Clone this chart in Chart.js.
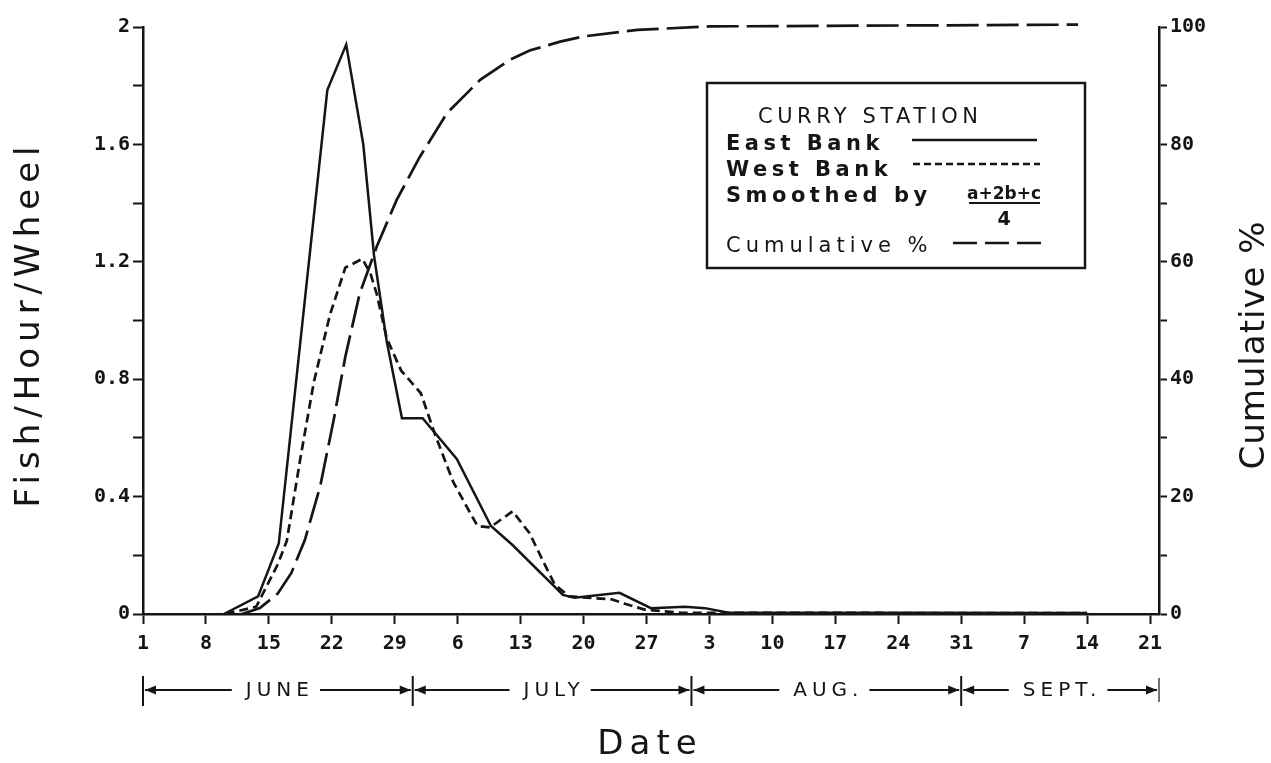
<!DOCTYPE html>
<html>
<head>
    <title>Curry Station</title>
    <script src="https://cdn.jsdelivr.net/npm/chart.js"></script>
    <style>
        body { margin: 0; background: #fff; }
        canvas { display: block; }
    </style>
</head>
<body>
    <canvas id="fishChart" width="1271" height="763"></canvas>
    <script>
        // x is days counted from June 1 (day 0) to Sept 21 (day 112)
        const tickDays = [0, 7, 14, 21, 28, 35, 42, 49, 56, 63, 70, 77, 84, 91, 98, 105, 112];
        const tickLabels = ['1', '8', '15', '22', '29', '6', '13', '20', '27', '3', '10', '17', '24', '31', '7', '14', '21'];
        const monthBounds = [0, 30, 61, 91, 113];
        const monthNames = ['JUNE', 'JULY', 'AUG.', 'SEPT.'];

        const eastDays = [9, 12.8, 15.1, 20.5, 22.6, 24.5, 25.7, 27.1, 28.8, 31.1, 34.9, 38.7, 41.1, 46.7, 48, 53, 56.5, 60.3, 62.5, 65, 105];
        const eastVals = [0, 0.06, 0.24, 1.785, 1.94, 1.6, 1.22, 0.93, 0.667, 0.667, 0.528, 0.3, 0.235, 0.065, 0.055, 0.072, 0.02, 0.025, 0.02, 0.005, 0.003];

        const westDays = [9.2, 12.6, 15, 16, 17.5, 19, 20.8, 22.5, 24.4, 25.3, 26, 27.1, 28.7, 30.9, 32.5, 34.5, 36, 37.2, 38.6, 41.1, 43, 44.5, 45.8, 47.4, 52.1, 53.6, 55.8, 60, 105];
        const westVals = [0, 0.025, 0.17, 0.25, 0.53, 0.79, 1.02, 1.18, 1.21, 1.16, 1.09, 0.94, 0.83, 0.752, 0.61, 0.45, 0.366, 0.3, 0.295, 0.35, 0.275, 0.18, 0.1, 0.06, 0.05, 0.035, 0.015, 0.004, 0.003];

        const cumDays = [11, 13, 15, 16.5, 18, 19.7, 21.2, 22.5, 24.1, 26, 28.2, 30.8, 33.8, 37.5, 40.8, 43, 46.4, 49, 55, 63, 104];
        const cumVals = [0, 1, 3.5, 7, 12.6, 21.7, 33, 43.8, 54.6, 62.6, 70.5, 77.9, 85.3, 91, 94.4, 96, 97.5, 98.4, 99.5, 100.1, 100.4];

        const ink = '#151515';
        const pts = (xs, ys) => xs.map((x, i) => ({ x: x, y: ys[i] }));

        function arrowTo(ctx, xa, xb, y) {
            ctx.beginPath();
            ctx.moveTo(xa, y);
            ctx.lineTo(xb, y);
            ctx.stroke();
            const dir = Math.sign(xb - xa);
            ctx.beginPath();
            ctx.moveTo(xb, y);
            ctx.lineTo(xb - dir * 11, y - 4.5);
            ctx.lineTo(xb - dir * 11, y + 4.5);
            ctx.closePath();
            ctx.fill();
        }

        // titles, month band and the boxed legend
        const decor = {
            id: 'decor',
            afterDraw(chart) {
                const ctx = chart.ctx;
                const xs = chart.scales.x;
                ctx.save();
                ctx.fillStyle = ink;
                ctx.strokeStyle = ink;
                ctx.textAlign = 'center';
                ctx.textBaseline = 'middle';

                ctx.font = '34px "DejaVu Sans"';
                ctx.letterSpacing = '6px';
                ctx.save();
                ctx.translate(30, 324);
                ctx.rotate(-Math.PI / 2);
                ctx.fillText('Fish/Hour/Wheel', 0, 0);
                ctx.restore();
                ctx.letterSpacing = '1px';
                ctx.save();
                ctx.translate(1255, 345);
                ctx.rotate(-Math.PI / 2);
                ctx.fillText('Cumulative %', 0, 0);
                ctx.restore();
                ctx.letterSpacing = '6px';
                ctx.fillText('Date', 650, 745);

                // month band
                const by = 690;
                ctx.font = '20px "DejaVu Sans"';
                ctx.letterSpacing = '5px';
                ctx.lineWidth = 2;
                for (let i = 0; i < monthNames.length; i++) {
                    const x0 = xs.getPixelForValue(monthBounds[i]);
                    const x1 = xs.getPixelForValue(monthBounds[i + 1]);
                    const mid = (x0 + x1) / 2;
                    const w = ctx.measureText(monthNames[i]).width;
                    ctx.fillText(monthNames[i], mid + 2, by + 1);
                    arrowTo(ctx, mid - w / 2 - 12, x0 + 2, by);
                    arrowTo(ctx, mid + w / 2 + 8, x1 - 2, by);
                    ctx.beginPath();
                    ctx.moveTo(x0, by - 14);
                    ctx.lineTo(x0, by + 16);
                    ctx.stroke();
                }
                const xe = xs.getPixelForValue(monthBounds[monthBounds.length - 1]);
                ctx.lineWidth = 1.2;
                ctx.beginPath();
                ctx.moveTo(xe, by - 12);
                ctx.lineTo(xe, by + 12);
                ctx.stroke();

                // legend box
                ctx.lineWidth = 2.5;
                ctx.strokeRect(707, 83, 378, 185);
                ctx.textAlign = 'left';
                ctx.textBaseline = 'alphabetic';
                ctx.letterSpacing = '4.5px';
                ctx.font = '21px "DejaVu Sans"';
                ctx.fillText('CURRY STATION', 758, 123);
                ctx.font = 'bold 21px "DejaVu Sans"';
                ctx.fillText('East Bank', 726, 150);
                ctx.fillText('West Bank', 726, 176);
                ctx.fillText('Smoothed by', 726, 202);
                ctx.font = '21px "DejaVu Sans"';
                ctx.letterSpacing = '5px';
                ctx.fillText('Cumulative %', 726, 252);

                ctx.letterSpacing = '0px';
                ctx.textAlign = 'center';
                ctx.font = 'bold 17px "DejaVu Sans"';
                ctx.fillText('a+2b+c', 1004, 199);
                ctx.font = 'bold 19px "DejaVu Sans"';
                ctx.fillText('4', 1004, 225);
                ctx.lineWidth = 2;
                ctx.beginPath();
                ctx.moveTo(969, 203);
                ctx.lineTo(1040, 203);
                ctx.stroke();

                ctx.lineWidth = 2.5;
                ctx.beginPath();
                ctx.moveTo(912, 140);
                ctx.lineTo(1037, 140);
                ctx.stroke();
                ctx.setLineDash([7, 4]);
                ctx.beginPath();
                ctx.moveTo(913, 164);
                ctx.lineTo(1040, 164);
                ctx.stroke();
                ctx.setLineDash([24, 8]);
                ctx.beginPath();
                ctx.moveTo(953, 243);
                ctx.lineTo(1042, 243);
                ctx.stroke();
                ctx.restore();
            }
        };

        const tickFont = { family: '"DejaVu Sans Mono"', size: 20, weight: 'bold' };

        new Chart(document.getElementById('fishChart'), {
            type: 'line',
            data: {
                datasets: [{
                    label: 'East Bank',
                    data: pts(eastDays, eastVals),
                    borderColor: ink,
                    borderWidth: 2.5,
                    pointRadius: 0,
                    yAxisID: 'y'
                }, {
                    label: 'West Bank',
                    data: pts(westDays, westVals),
                    borderColor: ink,
                    borderWidth: 2.7,
                    borderDash: [9, 5],
                    pointRadius: 0,
                    yAxisID: 'y'
                }, {
                    label: 'Cumulative %',
                    data: pts(cumDays, cumVals),
                    borderColor: ink,
                    borderWidth: 2.7,
                    borderDash: [32, 8],
                    pointRadius: 0,
                    clip: 8,
                    yAxisID: 'y2'
                }]
            },
            options: {
                responsive: false,
                animation: false,
                devicePixelRatio: 1,
                layout: { padding: { top: 27, left: 0, right: 0, bottom: 0 } },
                plugins: { legend: { display: false }, tooltip: { enabled: false } },
                scales: {
                    x: {
                        type: 'linear',
                        min: 0,
                        max: 113,
                        afterBuildTicks: s => { s.ticks = tickDays.map(v => ({ value: v })); },
                        afterFit: s => { s.height = 149; },
                        ticks: {
                            autoSkip: false,
                            maxRotation: 0,
                            color: ink,
                            font: tickFont,
                            padding: 8,
                            callback: (v, i) => tickLabels[i]
                        },
                        grid: { drawOnChartArea: false, tickLength: 10, tickWidth: 2, tickColor: ink },
                        border: { color: ink, width: 2.5 }
                    },
                    y: {
                        position: 'left',
                        min: 0,
                        max: 2,
                        afterFit: s => { s.width = 143; },
                        ticks: {
                            stepSize: 0.2,
                            color: ink,
                            font: tickFont,
                            padding: 3,
                            callback: v => {
                                const r = Math.round(v * 10);
                                if (r % 4 !== 0) return '';
                                return r === 0 ? '0' : r === 20 ? '2' : (r / 10).toFixed(1);
                            }
                        },
                        grid: { drawOnChartArea: false, tickLength: 10, tickWidth: 2, tickColor: ink },
                        border: { color: ink, width: 2.5 }
                    },
                    y2: {
                        position: 'right',
                        min: 0,
                        max: 100,
                        afterFit: s => { s.width = 112; },
                        ticks: {
                            stepSize: 10,
                            color: ink,
                            font: tickFont,
                            padding: 3,
                            callback: v => (v % 20 === 0 ? String(v) : '')
                        },
                        grid: { drawOnChartArea: false, tickLength: 8, tickWidth: 2, tickColor: ink },
                        border: { color: ink, width: 2.5 }
                    }
                }
            },
            plugins: [decor]
        });
    </script>
</body>
</html>
